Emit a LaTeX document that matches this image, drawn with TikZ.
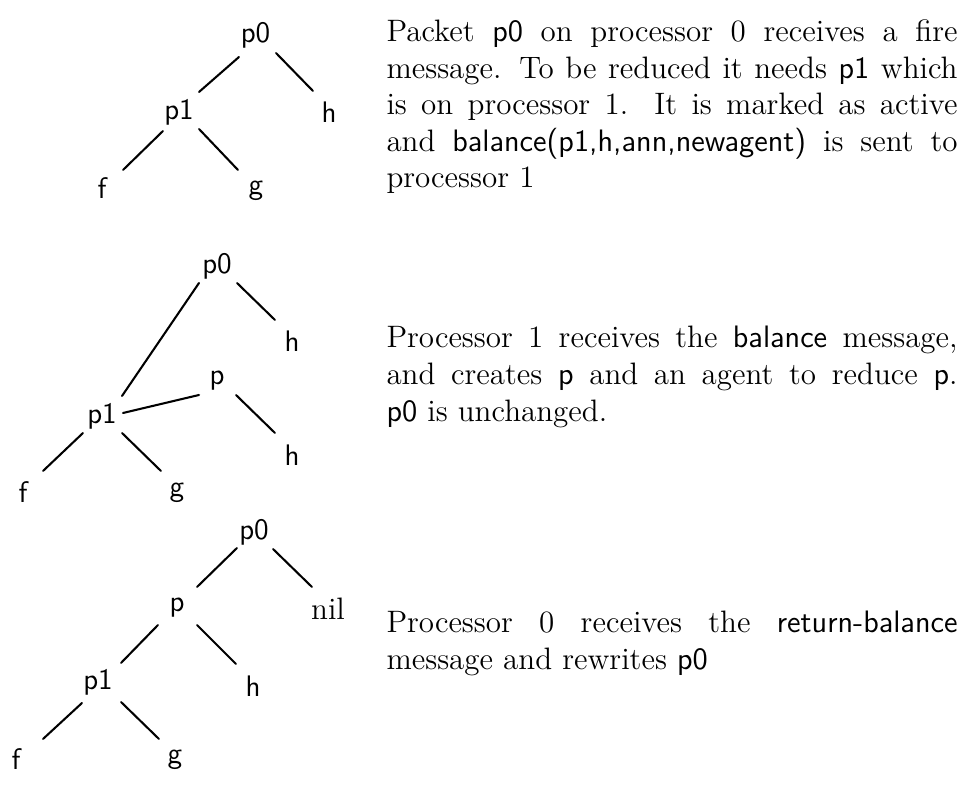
\documentclass[tikz,border=0pt]{standalone}
% inline sans-serif identifiers inside the running text
\newcommand\sfw[1]{{\sffamily #1}}
% one justified line of the running text
\newcommand\jline[1]{\makebox[221pt][s]{#1}}
\begin{document}
\begin{tikzpicture}[x=0.387pt,y=-0.387pt,
  lbl/.style={inner sep=0pt, font=\sffamily\fontsize{11.5}{14}\selectfont},
  nillbl/.style={inner sep=0pt, font=\rmfamily\fontsize{12}{14}\selectfont},
  branch/.style={line width=0.8pt, line cap=round},
  txtline/.style={anchor=base west, inner sep=0pt, font=\rmfamily\fontsize{12}{14.5}\selectfont}]
\useasboundingbox (0,0) rectangle (971,785);
\fill[white] (0,0) rectangle (971,785);

% ---------- first tree: p0 before the fire message ----------
\node[lbl] (ta0) at (255.5,35)  {p0};
\node[lbl] (ta1) at (179,112)   {p1};
\node[lbl] (tah) at (329,112.5) {h};
\node[lbl] (taf) at (102,188)   {f};
\node[lbl] (tag) at (256,191)   {g};
\draw[branch] ([shift={(-16.5,22)}]ta0.center) -- ([shift={(20,-20)}]ta1.center);
\draw[branch] ([shift={(20.5,18)}]ta0.center)  -- ([shift={(-16,-21.5)}]tah.center);
\draw[branch] ([shift={(-16,19)}]ta1.center)   -- ([shift={(21,-18)}]taf.center);
\draw[branch] ([shift={(20,17)}]ta1.center)    -- ([shift={(-18,-21)}]tag.center);

% ---------- second tree: p created on processor 1 ----------
\node[lbl] (tb0)  at (217,266)   {p0};
\node[lbl] (tbh)  at (292,341.5) {h};
\node[lbl] (tbp)  at (217,381)   {p};
\node[lbl] (tb1)  at (102,416)   {p1};
\node[lbl] (tbh2) at (292,455)   {h};
\node[lbl] (tbf)  at (23,492)    {f};
\node[lbl] (tbg)  at (177,492.5) {g};
\draw[branch] ([shift={(-18,17)}]tb0.center) -- ([shift={(20,-20)}]tb1.center);
\draw[branch] ([shift={(20,17)}]tb0.center)  -- ([shift={(-17,-21.5)}]tbh.center);
\draw[branch] ([shift={(21,-3)}]tb1.center)  -- ([shift={(-18,14)}]tbp.center);
\draw[branch] ([shift={(19,14)}]tbp.center)  -- ([shift={(-17,-22)}]tbh2.center);
\draw[branch] ([shift={(-19,17)}]tb1.center) -- ([shift={(20,-21)}]tbf.center);
\draw[branch] ([shift={(20,17)}]tb1.center)  -- ([shift={(-16,-21.5)}]tbg.center);

% ---------- third tree: p0 rewritten ----------
\node[lbl]    (tc0) at (254,532)   {p0};
\node[lbl]    (tcp) at (177,607.5) {p};
\node[nillbl] (tcn) at (328,609)   {nil};
\node[lbl]    (tc1) at (98,682.5)  {p1};
\node[lbl]    (tch) at (253,686)   {h};
\node[lbl]    (tcf) at (16,759)    {f};
\node[lbl]    (tcg) at (175,760)   {g};
\draw[branch] ([shift={(-17,16)}]tc0.center)   -- ([shift={(20,-20.5)}]tcp.center);
\draw[branch] ([shift={(19,17)}]tc0.center)    -- ([shift={(-16,-22)}]tcn.center);
\draw[branch] ([shift={(-19,17.5)}]tcp.center) -- ([shift={(23,-19.5)}]tc1.center);
\draw[branch] ([shift={(20,17.5)}]tcp.center)  -- ([shift={(-17,-22)}]tch.center);
\draw[branch] ([shift={(-16,20.5)}]tc1.center) -- ([shift={(27,-20)}]tcf.center);
\draw[branch] ([shift={(23,19.5)}]tc1.center)  -- ([shift={(-16,-21)}]tcg.center);

% ---------- explanations ----------
\node[txtline] (d1a) at (386,42)    {\jline{Packet \sfw{p0} on processor 0 receives a fire}};
\node[txtline] (d1b) at (386,78.5)  {\jline{message. To be reduced it needs \sfw{p1} which}};
\node[txtline] (d1c) at (386,115)   {\jline{is on processor 1. It is marked as active}};
\node[txtline] (d1d) at (386,151.5) {\jline{and \sfw{balance(p1,h,ann,newagent)} is sent to}};
\node[txtline] (d1e) at (386,188)   {processor 1};

\node[txtline] (d2a) at (386,348) {\jline{Processor 1 receives the \sfw{balance} message,}};
\node[txtline] (d2b) at (386,385) {\jline{and creates \sfw{p} and an agent to reduce \sfw{p}.}};
\node[txtline] (d2c) at (386,422) {\sfw{p0} is unchanged.};

\node[txtline] (d3a) at (386,633) {\jline{Processor 0 receives the \sfw{return-balance}}};
\node[txtline] (d3b) at (386,670) {message and rewrites \sfw{p0}};
\end{tikzpicture}
\end{document}
